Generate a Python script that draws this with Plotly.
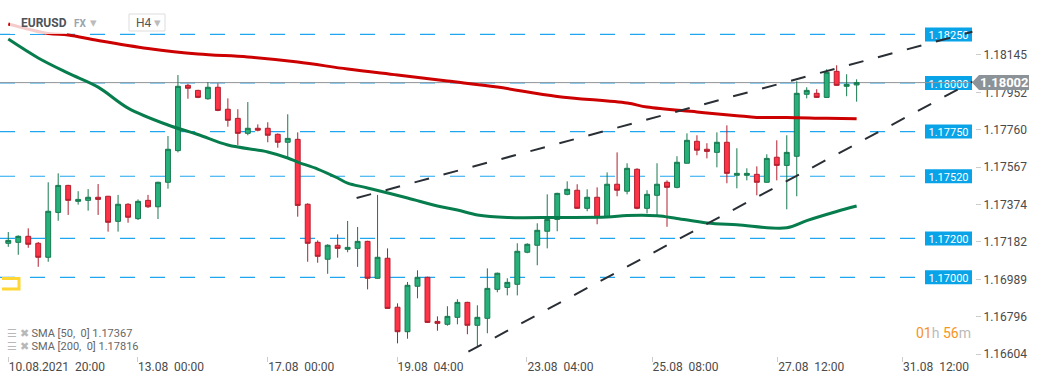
import plotly.graph_objects as go

# ---------------- data ----------------
opens = [1.17175, 1.17180, 1.17211, 1.17175, 1.17103, 1.17334, 1.17473, 1.17391, 1.17396, 1.17412,
         1.17417, 1.17288, 1.17376, 1.17302, 1.17396, 1.17363, 1.17489, 1.17652, 1.17988, 1.17962,
         1.17919, 1.17978, 1.17865, 1.17818, 1.17741, 1.17767, 1.17767, 1.17736, 1.17695, 1.17710,
         1.17376, 1.17180, 1.17093, 1.17165, 1.17144, 1.17149, 1.17185, 1.16995, 1.17098, 1.16846,
         1.16720, 1.16954, 1.17000, 1.16773, 1.16758, 1.16794, 1.16871, 1.16753, 1.16789, 1.16938,
         1.16948, 1.16964, 1.17129, 1.17165, 1.17237, 1.17298, 1.17427, 1.17448, 1.17355, 1.17412,
         1.17312, 1.17479, 1.17443, 1.17556, 1.17355, 1.17422, 1.17489, 1.17463, 1.17587, 1.17700,
         1.17659, 1.17643, 1.17695, 1.17525, 1.17525, 1.17530, 1.17489, 1.17618, 1.17576, 1.17623,
         1.17942, 1.17947, 1.17926, 1.18060, 1.17983, 1.17990]
highs = [1.17233, 1.17216, 1.17252, 1.17182, 1.17489, 1.17535, 1.17476, 1.17443, 1.17454, 1.17480,
         1.17419, 1.17424, 1.17381, 1.17401, 1.17424, 1.17492, 1.17727, 1.18041, 1.17996, 1.17965,
         1.18005, 1.17998, 1.17921, 1.17865, 1.17902, 1.17787, 1.17798, 1.17740, 1.17839, 1.17746,
         1.17381, 1.17190, 1.17170, 1.17221, 1.17290, 1.17259, 1.17188, 1.17424, 1.17149, 1.16866,
         1.16976, 1.17036, 1.17003, 1.16799, 1.16851, 1.16887, 1.16874, 1.16856, 1.17046, 1.17024,
         1.16995, 1.17175, 1.17175, 1.17278, 1.17427, 1.17435, 1.17494, 1.17479, 1.17453, 1.17463,
         1.17540, 1.17643, 1.17587, 1.17561, 1.17448, 1.17587, 1.17499, 1.17623, 1.17741, 1.17731,
         1.17690, 1.17746, 1.17782, 1.17664, 1.17561, 1.17571, 1.17633, 1.17705, 1.17731, 1.18009,
         1.17978, 1.17968, 1.18071, 1.18091, 1.18045, 1.18019]
lows = [1.17157, 1.17116, 1.17152, 1.17054, 1.17080, 1.17291, 1.17321, 1.17374, 1.17343, 1.17321,
        1.17235, 1.17235, 1.17281, 1.17295, 1.17357, 1.17300, 1.17456, 1.17643, 1.17919, 1.17922,
        1.17914, 1.17855, 1.17775, 1.17681, 1.17731, 1.17751, 1.17695, 1.17667, 1.17616, 1.17312,
        1.17080, 1.17075, 1.17018, 1.17101, 1.17129, 1.17054, 1.16938, 1.16993, 1.16838, 1.16660,
        1.16684, 1.16892, 1.16765, 1.16725, 1.16751, 1.16758, 1.16707, 1.16643, 1.16712, 1.16923,
        1.16907, 1.16907, 1.17124, 1.17062, 1.17149, 1.17237, 1.17422, 1.17353, 1.17340, 1.17273,
        1.17310, 1.17417, 1.17427, 1.17350, 1.17329, 1.17319, 1.17260, 1.17458, 1.17587, 1.17628,
        1.17612, 1.17566, 1.17484, 1.17458, 1.17499, 1.17422, 1.17487, 1.17499, 1.17350, 1.17417,
        1.17921, 1.17924, 1.17924, 1.17985, 1.17932, 1.17904]
closes = [1.17190, 1.17211, 1.17170, 1.17103, 1.17340, 1.17473, 1.17396, 1.17401, 1.17412, 1.17401,
          1.17283, 1.17376, 1.17309, 1.17391, 1.17363, 1.17489, 1.17659, 1.17983, 1.17973, 1.17926,
          1.17978, 1.17859, 1.17808, 1.17741, 1.17767, 1.17757, 1.17731, 1.17695, 1.17715, 1.17370,
          1.17175, 1.17108, 1.17165, 1.17149, 1.17154, 1.17185, 1.16995, 1.17103, 1.16840, 1.16720,
          1.16959, 1.17000, 1.16768, 1.16763, 1.16799, 1.16871, 1.16753, 1.16794, 1.16943, 1.17021,
          1.16974, 1.17134, 1.17170, 1.17242, 1.17298, 1.17432, 1.17453, 1.17355, 1.17412, 1.17309,
          1.17479, 1.17448, 1.17561, 1.17355, 1.17427, 1.17479, 1.17463, 1.17592, 1.17705, 1.17654,
          1.17648, 1.17695, 1.17535, 1.17535, 1.17535, 1.17489, 1.17612, 1.17576, 1.17643, 1.17947,
          1.17962, 1.17926, 1.18055, 1.17988, 1.17993, 1.18002]
bar_index = list(range(len(opens)))

sma200_x = [0, 4, 6, 9, 14, 19, 24, 29, 34, 39, 44, 49, 55, 62, 64, 69, 73, 75, 78, 82, 85]
sma200_y = [1.18304, 1.18255, 1.18247, 1.18219, 1.18178, 1.18149, 1.18134, 1.18108, 1.18072, 1.18041,
            1.18010, 1.17979, 1.17931, 1.17897, 1.17876, 1.17851, 1.17832, 1.17823, 1.17823, 1.17818,
            1.17816]
sma50_x = [0, 3, 6, 9, 12, 16, 19, 22, 26, 28, 29, 31, 33, 34, 36, 40, 43, 45, 47, 50, 55, 60, 62,
           65, 67, 70, 73, 78, 80, 83, 85]
sma50_y = [1.18226, 1.18129, 1.18051, 1.17979, 1.17871, 1.17784, 1.17735, 1.17681, 1.17645, 1.17614,
           1.17593, 1.17557, 1.17511, 1.17485, 1.17460, 1.17408, 1.17367, 1.17346, 1.17321, 1.17308,
           1.17308, 1.17310, 1.17318, 1.17317, 1.17303, 1.17280, 1.17270, 1.17255, 1.17292, 1.17339,
           1.17367]

upper_trend_x = [34.9, 96.6]
upper_trend_y = [1.17408, 1.18264]
lower_trend_x = [46.1, 96.6]
lower_trend_y = [1.16617, 1.18007]

levels = [1.18250, 1.18000, 1.17750, 1.17520, 1.17200, 1.17000]
level_labels = ["1.18250", "1.18000", "1.17750", "1.17520", "1.17200", "1.17000"]

y_tickvals = [1.18145, 1.17952, 1.17760, 1.17567, 1.17374, 1.17182, 1.16989, 1.16796, 1.16604]
y_ticktext = ["1.18145", "1.17952", "1.17760", "1.17567", "1.17374", "1.17182", "1.16989", "1.16796", "1.16604"]

x_tickvals = [0, 12.95, 26, 38.95, 51.97, 64.5, 77.1, 89.6]
x_ticktext = ["10.08.2021  20:00", "13.08  00:00", "17.08  00:00", "19.08  04:00",
              "23.08  04:00", "25.08  08:00", "27.08  12:00", "31.08  12:00"]

current_price = 1.18002
sma50_last = 1.17367
sma200_last = 1.17816

# ---------------- layout geometry ----------------
W, H = 1041, 379
ML, MR, MT, MB = 0, 66, 0, 23
PW, PH = W - ML - MR, H - MT - MB
Y_TOP, Y_BOT = 1.184272, 1.165950
X_LEFT, X_RIGHT = -0.83, 96.86
px_per_price = PH / (Y_TOP - Y_BOT)


def pxp(x, y):
    """pixel in plot area -> paper coords"""
    return x / PW, 1 - y / PH


def price_to_py(p):
    return (Y_TOP - p) * px_per_price


FONT = "Roboto, 'Open Sans', sans-serif"

fig = go.Figure()

fig.add_trace(go.Candlestick(
    x=bar_index, open=opens, high=highs, low=lows, close=closes,
    increasing=dict(line=dict(color="#17794f", width=1), fillcolor="#27b07a"),
    decreasing=dict(line=dict(color="#b01f2e", width=1), fillcolor="#ff3347"),
    whiskerwidth=0, hoverinfo="skip", showlegend=False,
))

fig.add_trace(go.Scatter(x=sma200_x, y=sma200_y, mode="lines", line=dict(color="#cc0000", width=3, shape="spline"),
                         hoverinfo="skip", showlegend=False))
fig.add_trace(go.Scatter(x=sma50_x, y=sma50_y, mode="lines", line=dict(color="#077d4e", width=3, shape="spline"),
                         hoverinfo="skip", showlegend=False))

for tx, ty in ((upper_trend_x, upper_trend_y), (lower_trend_x, lower_trend_y)):
    fig.add_trace(go.Scatter(x=tx, y=ty, mode="lines", line=dict(color="#2a2f35", width=2, dash="15px,15px"),
                             hoverinfo="skip", showlegend=False, cliponaxis=False))

shapes = []
annotations = []

# dashed horizontal levels with label boxes
box_half = 7 / px_per_price
for lv, lab in zip(levels, level_labels):
    shapes.append(dict(type="line", xref="paper", yref="y", x0=0, x1=922 / PW, y0=lv, y1=lv,
                       line=dict(color="#1fa6ee", width=1.2, dash="15px,15px"), layer="below"))
    shapes.append(dict(type="rect", xref="paper", yref="y", x0=925 / PW, x1=972 / PW,
                       y0=lv - box_half, y1=lv + box_half, fillcolor="#09a3e8", line=dict(width=0),
                       layer="below",
                       label=dict(text=lab, font=dict(color="white", size=11, family=FONT),
                                  textposition="middle center")))

# current price line
shapes.append(dict(type="line", xref="paper", yref="y", x0=0, x1=972 / PW, y0=current_price, y1=current_price,
                   line=dict(color="#8f959a", width=1), layer="below"))

# current price label (arrow box outside the plot area)
cy = price_to_py(current_price)
pts = [(972, cy), (979, cy - 7.5), (1029, cy - 7.5), (1029, cy + 7.5), (979, cy + 7.5)]
path = "M " + " L ".join("%.5f,%.5f" % pxp(x, y) for x, y in pts) + " Z"
shapes.append(dict(type="path", xref="paper", yref="paper", path=path, fillcolor="#8c9398",
                   line=dict(width=0), layer="above"))
annotations.append(dict(xref="paper", yref="paper", x=pxp(1004, cy)[0], y=pxp(0, cy)[1],
                        text="<b>%.5f</b>" % current_price, showarrow=False,
                        font=dict(color="white", size=13, family=FONT), xanchor="center", yanchor="middle"))

# header: translucent white behind title
x0, y0 = pxp(10, 14)
x1, y1 = pxp(67, 34)
shapes.append(dict(type="rect", xref="paper", yref="paper", x0=x0, x1=x1, y0=y1, y1=y0,
                   fillcolor="rgba(255,255,255,0.8)", line=dict(width=0), layer="above"))
annotations.append(dict(xref="paper", yref="paper", x=pxp(19, 0)[0], y=pxp(0, 23)[1], text="<b>EURUSD</b>",
                        showarrow=False, xanchor="left", yanchor="middle",
                        font=dict(color="#4d5358", size=12, family=FONT)))
annotations.append(dict(xref="paper", yref="paper", x=pxp(72, 0)[0], y=pxp(0, 24)[1],
                        text="<b>FX</b>", showarrow=False, xanchor="left", yanchor="middle",
                        font=dict(color="#9aa4ad", size=10, family=FONT)))
annotations.append(dict(xref="paper", yref="paper", x=pxp(88, 0)[0], y=pxp(0, 22)[1],
                        text="▾", showarrow=False, xanchor="left", yanchor="middle",
                        font=dict(color="#bbbbbb", size=13, family="DejaVu Sans")))
hx0, hy0 = pxp(129, 14)
hx1, hy1 = pxp(165, 31)
shapes.append(dict(type="rect", xref="paper", yref="paper", x0=hx0, x1=hx1, y0=hy1, y1=hy0,
                   fillcolor="white", line=dict(color="#dddddd", width=1), layer="above"))
annotations.append(dict(xref="paper", yref="paper", x=pxp(134, 0)[0], y=pxp(0, 23)[1],
                        text="H4", showarrow=False, xanchor="left", yanchor="middle",
                        font=dict(color="#555555", size=12, family=FONT)))
annotations.append(dict(xref="paper", yref="paper", x=pxp(152, 0)[0], y=pxp(0, 22)[1],
                        text="▾", showarrow=False, xanchor="left", yanchor="middle",
                        font=dict(color="#bbbbbb", size=13, family="DejaVu Sans")))

# yellow bracket
bpts = [(2, 278.5), (19, 278.5), (19, 289), (2, 289)]
bpath = "M " + " L ".join("%.5f,%.5f" % pxp(x, y) for x, y in bpts)
shapes.append(dict(type="path", xref="paper", yref="paper", path=bpath,
                   line=dict(color="#ffd633", width=3), layer="above"))

# indicator legend
for ytxt, period, val in ((333, 50, sma50_last), (346, 200, sma200_last)):
    annotations.append(dict(
        xref="paper", yref="paper", x=pxp(5, 0)[0], y=pxp(0, ytxt)[1],
        text='<span style="color:#b8b8b8">☰ ✖</span> SMA [%d,\u00a0 0] %.5f' % (period, val),
        showarrow=False, xanchor="left", yanchor="middle",
        font=dict(color="#666666", size=11, family=FONT)))

# countdown
annotations.append(dict(
    xref="paper", yref="paper", x=pxp(914, 0)[0], y=pxp(0, 333)[1],
    text='<span style="color:#f7941d">01</span><span style="color:#bbbbbb">h</span> '
         '<span style="color:#f7941d">56</span><span style="color:#bbbbbb">m</span>',
    showarrow=False, xanchor="left", yanchor="middle",
    font=dict(size=14, family=FONT)))

fig.update_layout(
    width=W, height=H,
    margin=dict(l=ML, r=MR, t=MT, b=MB),
    paper_bgcolor="white", plot_bgcolor="white",
    showlegend=False,
    shapes=shapes, annotations=annotations,
    xaxis=dict(range=[X_LEFT, X_RIGHT], rangeslider=dict(visible=False),
               tickvals=x_tickvals, ticktext=[t.replace("  ", "\u00a0\u00a0") for t in x_ticktext],
               ticks="outside", ticklen=5, tickcolor="#cccccc", ticklabelposition="outside right",
               showgrid=False, zeroline=False, showline=False,
               tickfont=dict(size=12, color="#4a4a4a", family=FONT)),
    yaxis=dict(range=[Y_BOT, Y_TOP], side="right", tickvals=y_tickvals, ticktext=y_ticktext,
               ticks="outside", ticklen=5, tickcolor="#cccccc",
               showgrid=False, zeroline=False, showline=False,
               tickfont=dict(size=12, color="#4a4a4a", family=FONT)),
)

fig.write_html("out.html", config={"displayModeBar": False},
               post_script="document.body.style.margin='0px';document.body.style.overflow='hidden';")
